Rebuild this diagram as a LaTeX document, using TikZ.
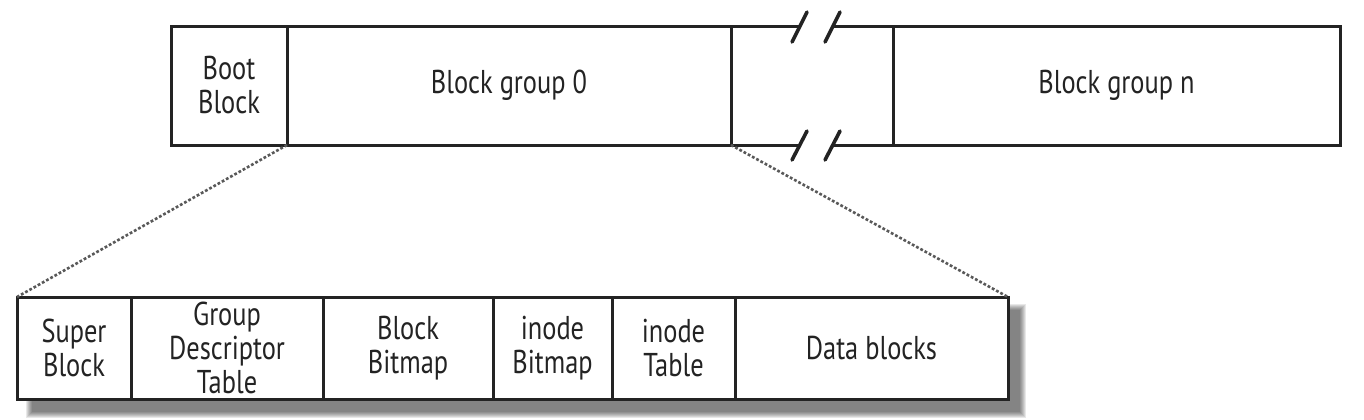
\documentclass[tikz,border=0pt]{standalone}
\usepackage{fontspec}
\setmainfont{PT Sans}[FakeStretch=0.8]
\usepackage{tikz}
\pgfdeclarelayer{edgelayer}
\pgfdeclarelayer{nodelayer}
\pgfsetlayers{edgelayer,nodelayer,main}
\definecolor{ink}{RGB}{35,35,35}
\tikzstyle{none} = []
\tikzstyle{cell} = [draw=ink, line width=1.5pt, inner sep=0pt, outer sep=0pt, align=center, text=ink, font=\fontsize{16.5}{17}\selectfont]
\tikzstyle{bar edge} = [draw=ink, line width=1.5pt]
\tikzstyle{zoom edge} = [draw=black!65, line width=1.3pt, dash pattern=on 1.4pt off 1pt]

\begin{document}
\begin{tikzpicture}[x=0.5pt, y=-0.5pt]
	\useasboundingbox (0, 0) rectangle (1364, 419);
	% shadow under the group layout
	\begin{pgfonlayer}{edgelayer}
		\foreach \s in {0,...,6}
			\fill [black, opacity=0.09] (26+\s, 304+\s) rectangle (1026-\s, 418-\s);
	\end{pgfonlayer}
	\begin{pgfonlayer}{nodelayer}
		\node [style=cell, fill=white, minimum width=58pt, minimum height=59.5pt] (0) at (229, 85.5) {Boot\\Block};
		\node [style=cell, fill=white, minimum width=222pt, minimum height=59.5pt] (1) at (509, 85.5) {Block group 0};
		\node [style=cell, fill=white, minimum width=223.5pt, minimum height=59.5pt] (2) at (1116.5, 85.5) {Block group n};
		\node [style=cell, fill=white, minimum width=57pt, minimum height=51pt] (3) at (74, 348) {Super\\Block};
		\node [style=cell, fill=white, minimum width=96pt, minimum height=51pt] (4) at (227, 348) {Group\\Descriptor\\Table};
		\node [style=cell, fill=white, minimum width=85pt, minimum height=51pt] (5) at (408, 348) {Block\\Bitmap};
		\node [style=cell, fill=white, minimum width=59.5pt, minimum height=51pt] (6) at (552.5, 348) {inode\\Bitmap};
		\node [style=cell, fill=white, minimum width=61.5pt, minimum height=51pt] (7) at (673.5, 348) {inode\\Table};
		\node [style=cell, fill=white, minimum width=136.5pt, minimum height=51pt] (8) at (871.5, 348) {Data blocks};
		\coordinate (9) at (800.5, 26);
		\coordinate (10) at (833.5, 26);
		\coordinate (11) at (800.5, 145);
		\coordinate (12) at (833.5, 145);
	\end{pgfonlayer}
	\begin{pgfonlayer}{main}
		% broken part of the disk
		\draw [style=bar edge] (1.north east) to (9);
		\draw [style=bar edge] (10) to (2.north west);
		\draw [style=bar edge] (1.south east) to (11);
		\draw [style=bar edge] (12) to (2.south west);
		\draw [style=bar edge, line width=1.8pt, line cap=round] ([shift={(-8.5,16)}]9) to ([shift={(6.5,-14)}]9);
		\draw [style=bar edge, line width=1.8pt, line cap=round] ([shift={(-8.5,16)}]10) to ([shift={(6.5,-14)}]10);
		\draw [style=bar edge, line width=1.8pt, line cap=round] ([shift={(-8.5,15)}]11) to ([shift={(6.5,-14)}]11);
		\draw [style=bar edge, line width=1.8pt, line cap=round] ([shift={(-8.5,15)}]12) to ([shift={(6.5,-14)}]12);
		\draw [style=zoom edge] (0.south east) to (3.north west);
		\draw [style=zoom edge] (1.south east) to (8.north east);
	\end{pgfonlayer}
\end{tikzpicture}
\end{document}
